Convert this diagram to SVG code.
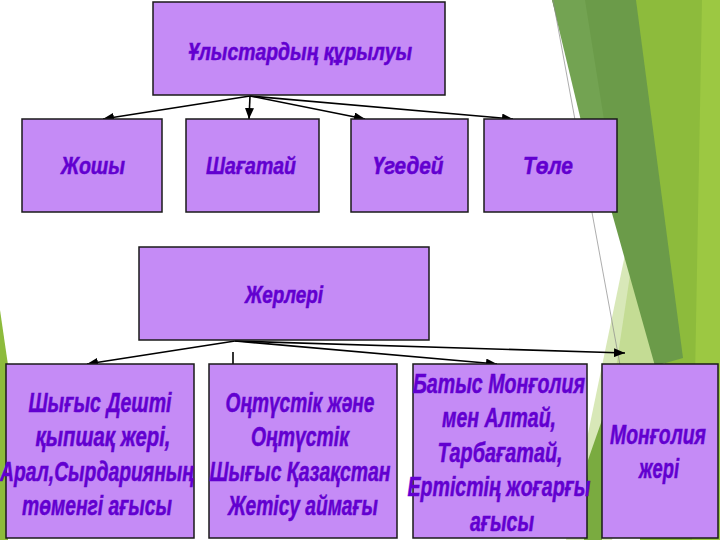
<svg xmlns="http://www.w3.org/2000/svg" width="720" height="540" viewBox="0 0 720 540">
<defs>
<style>
.box{fill:#c58bf6;stroke:#1a1a1a;stroke-width:1.5}
.t{font-family:"Liberation Sans","Arial",sans-serif;font-weight:bold;font-style:italic;fill:#6200d0;stroke:#6200d0;stroke-width:0.5;text-anchor:middle}
.s{font-size:24px}
.b{font-size:27px}
.c{stroke:#000;stroke-width:1.6;fill:none}
</style>
<marker id="ah" markerUnits="userSpaceOnUse" markerWidth="11" markerHeight="9" refX="11" refY="4.5" orient="auto">
<path d="M0,0 L11,4.5 L0,9 z" fill="#000"/>
</marker>
</defs>
<g id="background">
<rect x="0" y="0" width="720" height="540" fill="#ffffff"/>
<polygon points="632,0 720,0 720,540 640,540" fill="#8dbb3c"/>
<polygon points="702,0 720,0 720,540 692,540" fill="#9cc842"/>
<polygon points="628,240 665,362 612,540 566,540" fill="#d8e8b8"/>
<polygon points="632,262 665,362 625,480 600,540 590,540" fill="#c4dc94"/>
<polygon points="552,0 636,0 683,358 655,366" fill="#6b9b49"/>
<polygon points="552,0 585,0 612,170 600,200" fill="#73a352"/>
<polygon points="588,460 602,420 602,540 584,540" fill="#7aab40"/>
<polygon points="0,310 8,365 8,540 0,540" fill="#8dbb3c"/>
<line x1="553" y1="0" x2="620" y2="365" stroke="#8a8a8a" stroke-width="0.7"/>
</g>
<g id="connectors">
<line class="c" x1="250" y1="96" x2="103" y2="119" marker-end="url(#ah)"/>
<line class="c" x1="250" y1="96" x2="249" y2="119" marker-end="url(#ah)"/>
<line class="c" x1="250" y1="96" x2="365" y2="119" marker-end="url(#ah)"/>
<line class="c" x1="250" y1="96" x2="513" y2="119" marker-end="url(#ah)"/>
<line class="c" x1="235" y1="341" x2="87" y2="364" marker-end="url(#ah)"/>
<line class="c" x1="233" y1="352" x2="233" y2="364"/>
<line class="c" x1="235" y1="341" x2="497" y2="364" marker-end="url(#ah)"/>
<line class="c" x1="235" y1="341" x2="625" y2="353" marker-end="url(#ah)"/>
</g>
<g id="node-ulystar">
<rect class="box" x="153" y="2" width="292" height="93"/>
<text class="t s" x="300" y="60" textLength="224" lengthAdjust="spacingAndGlyphs">Ұлыстардың құрылуы</text>
</g>
<g id="node-zhoshy">
<rect class="box" x="22" y="119" width="140" height="93"/>
<text class="t s" x="93" y="174" textLength="64" lengthAdjust="spacingAndGlyphs">Жошы</text>
</g>
<g id="node-shagatai">
<rect class="box" x="186" y="119" width="133" height="93"/>
<text class="t s" x="251" y="174" textLength="90" lengthAdjust="spacingAndGlyphs">Шағатай</text>
</g>
<g id="node-ugedei">
<rect class="box" x="351" y="119" width="117" height="93"/>
<text class="t s" x="408" y="174" textLength="71" lengthAdjust="spacingAndGlyphs">Үгедей</text>
</g>
<g id="node-tole">
<rect class="box" x="484" y="119" width="133" height="93"/>
<text class="t s" x="548" y="174" textLength="50" lengthAdjust="spacingAndGlyphs">Төле</text>
</g>
<g id="node-zherleri">
<rect class="box" x="139" y="247" width="290" height="93"/>
<text class="t s" x="284" y="303" textLength="78" lengthAdjust="spacingAndGlyphs">Жерлері</text>
</g>
<g id="node-shygys">
<rect class="box" x="6" y="364" width="188" height="174"/>
<text class="t b" x="100" y="412" textLength="143" lengthAdjust="spacingAndGlyphs">Шығыс Дешті</text>
<text class="t b" x="103" y="446" textLength="135" lengthAdjust="spacingAndGlyphs">қыпшақ жері,</text>
<text class="t b" x="97" y="481" textLength="194" lengthAdjust="spacingAndGlyphs">Арал,Сырдарияның</text>
<text class="t b" x="97" y="515" textLength="150" lengthAdjust="spacingAndGlyphs">төменгі ағысы</text>
</g>
<g id="node-ontustik">
<rect class="box" x="209" y="364" width="188" height="174"/>
<text class="t b" x="300" y="412" textLength="149" lengthAdjust="spacingAndGlyphs">Оңтүстік және</text>
<text class="t b" x="300" y="446" textLength="98" lengthAdjust="spacingAndGlyphs">Оңтүстік</text>
<text class="t b" x="300" y="481" textLength="181" lengthAdjust="spacingAndGlyphs">Шығыс Қазақстан</text>
<text class="t b" x="303" y="515" textLength="150" lengthAdjust="spacingAndGlyphs">Жетісу аймағы</text>
</g>
<g id="node-batys">
<rect class="box" x="413" y="364" width="174" height="174"/>
<text class="t b" x="499" y="393" textLength="172" lengthAdjust="spacingAndGlyphs">Батыс Монғолия</text>
<text class="t b" x="499" y="427" textLength="114" lengthAdjust="spacingAndGlyphs">мен Алтай,</text>
<text class="t b" x="500" y="462" textLength="125" lengthAdjust="spacingAndGlyphs">Тарбағатай,</text>
<text class="t b" x="499" y="496" textLength="183" lengthAdjust="spacingAndGlyphs">Ертістің жоғарғы</text>
<text class="t b" x="502" y="531" textLength="64" lengthAdjust="spacingAndGlyphs">ағысы</text>
</g>
<g id="node-mongolia">
<rect class="box" x="602" y="364" width="116" height="174"/>
<text class="t b" x="658" y="444" textLength="96" lengthAdjust="spacingAndGlyphs">Монғолия</text>
<text class="t b" x="659" y="478" textLength="40" lengthAdjust="spacingAndGlyphs">жері</text>
</g>
</svg>
